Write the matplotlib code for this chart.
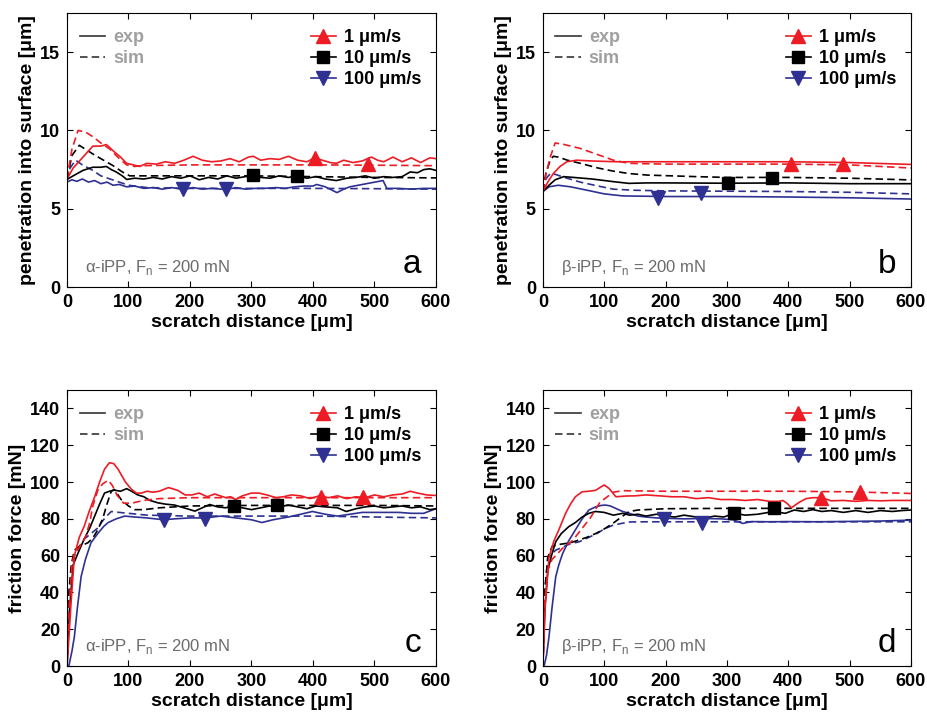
import matplotlib
matplotlib.use("Agg")
import matplotlib.pyplot as plt
from matplotlib.lines import Line2D

plt.rcParams['font.family'] = ['Liberation Sans', 'DejaVu Sans']
plt.rcParams['mathtext.fontset'] = 'custom'
plt.rcParams['mathtext.rm'] = 'Liberation Sans'

RED = '#ed1c24'
BLACK = '#000000'
BLUE = '#2e3192'
GRAY = '#a0a0a0'

# ---------------- panel a: penetration, alpha-iPP ----------------
a_red_exp_x = [0, 10, 26, 42, 55, 64, 75, 87, 97, 108, 118, 130, 145, 160, 175, 190, 205, 220, 235, 250, 265, 280,
               295, 303, 315, 330, 345, 360, 375, 390, 403, 415, 428, 438, 450, 465, 480, 495, 505, 515, 530, 545,
               560, 575, 590, 600]
a_red_exp_y = [6.9, 7.6, 8.3, 9.0, 9.0, 9.1, 8.7, 8.3, 7.9, 7.8, 7.7, 7.9, 7.85, 8.0, 7.9, 8.1, 8.35, 8.1, 8.0, 8.05,
               8.2, 8.0, 8.3, 8.35, 8.1, 8.2, 8.15, 8.35, 8.1, 8.0, 8.25, 8.1, 7.95, 7.9, 8.1, 7.95, 8.05, 8.3, 8.1,
               8.0, 8.3, 8.0, 8.25, 7.95, 8.25, 8.2]
a_red_sim_x = [0, 8, 18, 30, 42, 55, 70, 85, 97, 110, 120, 200, 300, 400, 500, 600]
a_red_sim_y = [6.9, 8.8, 10.0, 9.9, 9.6, 9.2, 8.8, 8.2, 7.8, 7.7, 7.75, 7.8, 7.8, 7.8, 7.78, 7.75]
a_black_exp_x = [0, 10, 26, 42, 55, 64, 72, 80, 90, 97, 110, 125, 140, 155, 170, 185, 200, 215, 230, 245, 260, 275,
                 290, 302, 315, 330, 345, 360, 374, 390, 405, 420, 438, 455, 470, 485, 500, 515, 530, 545, 558, 570,
                 580, 590, 600]
a_black_exp_y = [6.87, 7.1, 7.45, 7.65, 7.65, 7.7, 7.5, 7.35, 7.1, 6.87, 6.95, 6.9, 7.0, 6.9, 7.05, 6.95, 7.1, 6.85,
                 7.0, 6.9, 7.1, 6.95, 7.05, 7.13, 7.0, 6.95, 7.1, 7.0, 7.1, 6.95, 7.05, 6.9, 6.8, 6.95, 7.0, 7.1,
                 6.95, 7.05, 7.0, 7.05, 7.35, 7.3, 7.5, 7.55, 7.45]
a_black_sim_x = [0, 8, 20, 30, 42, 55, 75, 90, 102, 150, 200, 300, 400, 500, 600]
a_black_sim_y = [6.9, 8.4, 9.05, 8.8, 8.5, 8.2, 7.75, 7.35, 7.1, 7.1, 7.1, 7.1, 7.05, 7.0, 6.97]
a_blue_exp_x = [0, 8, 16, 25, 35, 45, 55, 65, 75, 85, 97, 110, 125, 140, 155, 170, 189, 205, 220, 235, 258, 275, 290,
                305, 320, 340, 355, 370, 385, 400, 406, 420, 439, 450, 460, 514, 520, 540, 560, 580, 600]
a_blue_exp_y = [6.7, 6.85, 6.75, 6.9, 6.7, 6.8, 6.6, 6.7, 6.5, 6.55, 6.4, 6.45, 6.3, 6.35, 6.25, 6.35, 6.23, 6.35,
                6.25, 6.3, 6.23, 6.35, 6.25, 6.3, 6.3, 6.35, 6.3, 6.4, 6.45, 6.45, 6.55, 6.4, 6.03, 6.25, 6.4, 6.8,
                6.3, 6.3, 6.25, 6.3, 6.3]
a_blue_sim_x = [0, 5, 14, 25, 42, 55, 70, 85, 100, 130, 200, 300, 400, 500, 600]
a_blue_sim_y = [6.8, 7.6, 8.1, 7.8, 7.45, 7.1, 6.9, 6.7, 6.5, 6.35, 6.3, 6.3, 6.3, 6.28, 6.25]
a_marks = {'red': ([404, 490], [8.25, 7.85]), 'black': ([302, 374], [7.13, 7.1]), 'blue': ([189, 258], [6.23, 6.23])}

# ---------------- panel b: penetration, beta-iPP ----------------
b_red_exp_x = [0, 8, 17, 28, 39, 55, 80, 120, 200, 300, 400, 500, 600]
b_red_exp_y = [6.1, 6.7, 7.25, 7.7, 8.0, 8.1, 8.05, 8.0, 8.0, 8.0, 8.0, 7.95, 7.83]
b_red_sim_x = [0, 5, 12, 20, 35, 61, 90, 115, 140, 200, 300, 400, 500, 600]
b_red_sim_y = [6.1, 7.2, 8.3, 9.2, 9.1, 8.85, 8.45, 8.1, 7.9, 7.85, 7.85, 7.85, 7.8, 7.6]
b_black_exp_x = [0, 10, 20, 34, 50, 80, 115, 140, 170, 200, 300, 400, 500, 600]
b_black_exp_y = [6.1, 6.5, 6.85, 7.05, 7.0, 6.9, 6.73, 6.62, 6.65, 6.65, 6.63, 6.65, 6.6, 6.6]
b_black_sim_x = [0, 5, 12, 17, 25, 40, 61, 90, 115, 140, 170, 250, 300, 400, 500, 600]
b_black_sim_y = [6.1, 7.3, 8.1, 8.35, 8.3, 8.1, 7.9, 7.6, 7.4, 7.25, 7.15, 7.05, 7.0, 7.0, 6.95, 6.84]
b_blue_exp_x = [0, 10, 25, 45, 70, 100, 130, 200, 300, 400, 500, 600]
b_blue_exp_y = [6.1, 6.4, 6.5, 6.4, 6.2, 5.95, 5.82, 5.78, 5.78, 5.75, 5.7, 5.62]
b_blue_sim_x = [0, 5, 12, 20, 35, 61, 90, 115, 150, 200, 300, 400, 500, 600]
b_blue_sim_y = [6.1, 6.9, 7.25, 7.2, 7.0, 6.7, 6.45, 6.25, 6.18, 6.14, 6.12, 6.1, 6.05, 5.95]
b_marks = {'red': ([404, 489], [7.85, 7.85]), 'black': ([301, 374], [6.62, 6.96]), 'blue': ([188, 257], [5.67, 6.03])}

# ---------------- panel c: friction, alpha-iPP ----------------
c_red_exp_x = [0, 3, 6.5, 12, 20, 28, 36, 45, 53, 61, 69, 76, 83, 95, 105, 113, 121, 130, 140, 150, 165, 180, 192,
               203, 215, 228, 240, 250, 258, 266, 274, 285, 300, 312, 325, 340, 352, 365, 380, 395, 410, 425, 440,
               455, 470, 485, 500, 515, 530, 545, 558, 570, 585, 600]
c_red_exp_y = [0, 15, 34, 60, 70, 76, 84, 92, 100, 107, 110.5, 110, 107, 100, 96, 94, 94, 95, 94.5, 95, 97, 95.5,
               93, 93, 94, 92, 93.5, 92.4, 91.5, 92, 90.5, 92.5, 94, 94, 93, 91.5, 92, 93, 92.5, 91, 92.5, 91.5,
               92.5, 91, 92, 91.5, 93, 92, 93, 93.5, 95, 94, 93, 92.7]
c_red_sim_x = [0, 3, 8, 12, 21, 30, 37, 42, 50, 58, 67, 74, 81, 92, 105, 124, 150, 200, 300, 400, 500, 600]
c_red_sim_y = [0, 30, 55, 61, 65, 70, 78, 87, 95.5, 99, 101, 98, 93, 88.5, 88.5, 90, 91, 91.5, 91.5, 91.5, 91.5,
               91.5]
c_black_exp_x = [0, 4, 10, 20, 28, 37, 45, 53, 61, 69, 77, 87, 97, 105, 115, 125, 135, 148, 160, 175, 190, 208,
                 220, 232, 245, 258, 270, 285, 300, 315, 330, 345, 360, 375, 390, 405, 420, 440, 454, 470, 485, 500,
                 515, 530, 545, 560, 575, 590, 600]
c_black_exp_y = [0, 30, 55, 63, 69, 75, 81.5, 88, 94, 95, 95.6, 95, 96.4, 95, 93, 92, 90, 88.7, 88, 87.5, 86, 84.2,
                 86, 87.8, 86.5, 86, 87, 86, 85, 86, 87, 86.5, 87.5, 86.5, 85.5, 87, 86.5, 86, 84, 85.5, 86.5, 87,
                 86, 86.5, 87, 86, 86.5, 85, 85.5]
c_black_sim_x = [0, 3, 7, 12, 20, 34, 42, 50, 58, 65, 72, 77, 88, 100, 110, 125, 150, 200, 300, 400, 500, 600]
c_black_sim_y = [0, 40, 55, 63, 65, 67, 69.6, 74, 80, 88, 95, 96, 90.5, 87, 85, 85, 86, 87, 87.3, 87.3, 87.3, 87]
c_blue_exp_x = [0, 3, 8, 12, 17, 23, 30, 39, 50, 60, 67, 80, 94, 110, 130, 157, 175, 200, 225, 250, 275, 300, 317,
                335, 360, 380, 399, 420, 440, 460, 480, 500, 520, 540, 560, 580, 600]
c_blue_exp_y = [0, 0, 8, 16, 32, 48.7, 58, 67, 72, 76, 78, 80, 81.5, 81, 80.5, 79.5, 80, 80.5, 80.5, 81.5, 80.5,
                79.5, 78, 79.5, 81, 82.5, 84, 82.5, 81.5, 82.5, 83.5, 83.5, 83.5, 83.5, 83, 83, 85.5]
c_blue_sim_x = [0, 3, 8, 12, 20, 28, 39, 50, 56, 63, 72, 85, 100, 130, 200, 300, 400, 500, 600]
c_blue_sim_y = [0, 30, 55, 60, 65, 69, 72, 75, 78, 81, 84, 83.5, 83, 82, 81.5, 81.5, 81.5, 81, 80.5]
c_marks = {'red': ([413, 481], [92, 92]), 'black': ([271, 342], [87, 87.3]), 'blue': ([157, 225], [79.3, 80])}

# ---------------- panel d: friction, beta-iPP ----------------
d_red_exp_x = [0, 4, 10, 18, 26, 37, 45, 53, 64, 75, 86, 93, 100, 108, 119, 135, 150, 168, 190, 210, 230, 250,
               270, 290, 310, 330, 350, 370, 385, 391, 398, 405, 418, 429, 440, 455, 470, 490, 510, 530, 550, 570,
               600]
d_red_exp_y = [0, 34, 59, 68, 74, 83, 88, 92, 94.7, 95, 95.5, 97, 98.4, 96.5, 92, 92.4, 92.5, 93, 92.5, 92, 92,
               91, 91.5, 90.5, 90.5, 90, 90.5, 89.5, 89.5, 90, 88.5, 86, 89, 91, 91.5, 91.5, 89.8, 90, 89.5, 90,
               89.8, 90, 90]
d_red_sim_x = [0, 3, 8, 15, 21, 32, 49, 62, 77, 93, 105, 115, 130, 200, 300, 400, 500, 600]
d_red_sim_y = [0, 35, 52, 58, 60, 64, 68.4, 74, 80.3, 89, 92, 94.5, 95.3, 95, 95, 95, 94.7, 93.8]
d_black_exp_x = [0, 3, 8, 14, 21, 30, 42, 53, 64, 75, 86, 100, 115, 130, 141, 155, 168, 185, 200, 215, 230, 250,
                 265, 280, 295, 312, 330, 350, 377, 395, 410, 425, 440, 455, 470, 490, 510, 530, 550, 570, 585, 600]
d_black_exp_y = [0, 30, 52, 60, 67.6, 72, 75.7, 78, 81, 83, 84, 83.5, 82, 83, 82, 82.5, 81.5, 82.5, 81.5, 81, 82,
                 81, 80.5, 81.5, 81, 83, 82, 82.5, 84, 83, 84.8, 84, 85, 84, 84.5, 83.5, 84.5, 83.5, 84.5, 84, 84.5,
                 84.8]
d_black_sim_x = [0, 3, 8, 15, 25, 35, 45, 59, 72, 86, 100, 114, 128, 141, 155, 168, 200, 300, 400, 500, 600]
d_black_sim_y = [0, 40, 59, 65, 66, 66.5, 67, 68.5, 70, 72, 74.5, 77.5, 81, 84, 84.8, 85, 85.5, 85.7, 85.7, 85.7,
                 85.7]
d_blue_exp_x = [0, 2, 6, 10, 15, 21, 26, 32, 42, 53, 64, 75, 86, 95, 102, 110, 120, 130, 141, 155, 168, 185, 200,
                230, 260, 290, 310, 326, 340, 370, 400, 450, 500, 550, 600]
d_blue_exp_y = [0, 0, 6, 16, 32, 48.6, 55, 61, 68, 74, 80, 84.8, 86.5, 87.3, 87.5, 87, 85.5, 84, 83, 81.5, 81, 80.5,
                80.3, 80, 80.2, 80, 79.5, 77.5, 78.5, 78.4, 78.5, 78.4, 78.6, 78.8, 79.3]
d_blue_sim_x = [0, 3, 8, 15, 21, 33, 45, 59, 72, 88, 100, 114, 128, 142, 168, 200, 300, 400, 500, 600]
d_blue_sim_y = [0, 40, 59, 61, 63, 64.7, 66.5, 67.5, 69.5, 72, 74.5, 76.5, 77.5, 78.3, 78.4, 78.4, 78.4, 78.4, 78.4,
                78.4]
d_marks = {'red': ([454, 517], [91.5, 94.7]), 'black': ([312, 377], [83, 85.7]), 'blue': ([197, 259], [80, 78])}

speed_labels = ['1 μm/s', '10 μm/s', '100 μm/s']
x_ticks = [0, 100, 200, 300, 400, 500, 600]
pen_ticks = [0, 5, 10, 15]
fric_ticks = [0, 20, 40, 60, 80, 100, 120, 140]

STYLE = {'red': (RED, '^'), 'black': (BLACK, 's'), 'blue': (BLUE, 'v')}
DASH = (0, (4.5, 2.5))

panels = [
    dict(pos=[0.0722, 0.603, 0.3976, 0.379], ylim=(0, 17.5), yticks=pen_ticks,
         ylabel='penetration into surface [μm]', material='α-iPP', letter='a',
         curves={'red': (a_red_exp_x, a_red_exp_y, a_red_sim_x, a_red_sim_y),
                 'black': (a_black_exp_x, a_black_exp_y, a_black_sim_x, a_black_sim_y),
                 'blue': (a_blue_exp_x, a_blue_exp_y, a_blue_sim_x, a_blue_sim_y)},
         marks=a_marks),
    dict(pos=[0.585, 0.603, 0.3966, 0.379], ylim=(0, 17.5), yticks=pen_ticks,
         ylabel='penetration into surface [μm]', material='β-iPP', letter='b',
         curves={'red': (b_red_exp_x, b_red_exp_y, b_red_sim_x, b_red_sim_y),
                 'black': (b_black_exp_x, b_black_exp_y, b_black_sim_x, b_black_sim_y),
                 'blue': (b_blue_exp_x, b_blue_exp_y, b_blue_sim_x, b_blue_sim_y)},
         marks=b_marks),
    dict(pos=[0.0722, 0.0788, 0.3976, 0.3817], ylim=(0, 150), yticks=fric_ticks,
         ylabel='friction force [mN]', material='α-iPP', letter='c',
         curves={'red': (c_red_exp_x, c_red_exp_y, c_red_sim_x, c_red_sim_y),
                 'black': (c_black_exp_x, c_black_exp_y, c_black_sim_x, c_black_sim_y),
                 'blue': (c_blue_exp_x, c_blue_exp_y, c_blue_sim_x, c_blue_sim_y)},
         marks=c_marks),
    dict(pos=[0.585, 0.0788, 0.3966, 0.3817], ylim=(0, 150), yticks=fric_ticks,
         ylabel='friction force [mN]', material='β-iPP', letter='d',
         curves={'red': (d_red_exp_x, d_red_exp_y, d_red_sim_x, d_red_sim_y),
                 'black': (d_black_exp_x, d_black_exp_y, d_black_sim_x, d_black_sim_y),
                 'blue': (d_blue_exp_x, d_blue_exp_y, d_blue_sim_x, d_blue_sim_y)},
         marks=d_marks),
]

fig = plt.figure(figsize=(9.28, 7.23), dpi=100)

for p in panels:
    ax = fig.add_axes(p['pos'])
    for key in ['blue', 'black', 'red']:
        color, mk = STYLE[key]
        ex, ey, sx, sy = p['curves'][key]
        ax.plot(ex, ey, color=color, lw=1.2, ls='-')
        ax.plot(sx, sy, color=color, lw=1.2, ls=DASH)
    for key in ['blue', 'black', 'red']:
        color, mk = STYLE[key]
        mx, my = p['marks'][key]
        ax.plot(mx, my, ls='none', marker=mk, color=color, ms=10 if mk != 's' else 8.5)

    ax.set_xlim(0, 600)
    ax.set_ylim(*p['ylim'])
    ax.set_xticks(x_ticks)
    ax.set_yticks(p['yticks'])
    ax.tick_params(direction='in', top=True, right=True, length=4, width=0.8,
                   labelsize=13, pad=5)
    for lab in ax.get_xticklabels() + ax.get_yticklabels():
        lab.set_fontweight('bold')
    for s in ax.spines.values():
        s.set_linewidth(0.8)
    ax.set_xlabel('scratch distance [μm]', fontsize=14, fontweight='bold', labelpad=2)
    ax.set_ylabel(p['ylabel'], fontsize=14, fontweight='bold', labelpad=3)

    # exp / sim line-style key
    style_handles = [Line2D([], [], color='#333333', lw=1.2, ls='-'),
                     Line2D([], [], color='#333333', lw=1.2, ls=DASH)]
    leg1 = ax.legend(style_handles, ['exp', 'sim'], loc='upper left', frameon=False,
                     bbox_to_anchor=(-0.01, 1.0), handlelength=1.4, handletextpad=0.45,
                     labelspacing=0.22, prop={'weight': 'bold', 'size': 13})
    for t in leg1.get_texts():
        t.set_color(GRAY)
    ax.add_artist(leg1)

    # loading-rate key
    speed_handles = [Line2D([], [], color=STYLE[k][0], lw=1.2, marker=STYLE[k][1],
                            ms=10 if STYLE[k][1] != 's' else 8.5)
                     for k in ['red', 'black', 'blue']]
    ax.legend(speed_handles, speed_labels, loc='upper right', frameon=False,
              bbox_to_anchor=(1.005, 1.0), handlelength=1.4, handletextpad=0.45,
              labelspacing=0.22, prop={'weight': 'bold', 'size': 13})

    ax.text(0.05, 0.035, p['material'] + ', F$_\\mathregular{n}$ = 200 mN', transform=ax.transAxes,
            color='#6b6b6b', fontsize=12, ha='left', va='bottom')
    ax.text(0.96, 0.025, p['letter'], transform=ax.transAxes, fontsize=24,
            ha='right', va='bottom')

fig.savefig('out.png', dpi=100)
